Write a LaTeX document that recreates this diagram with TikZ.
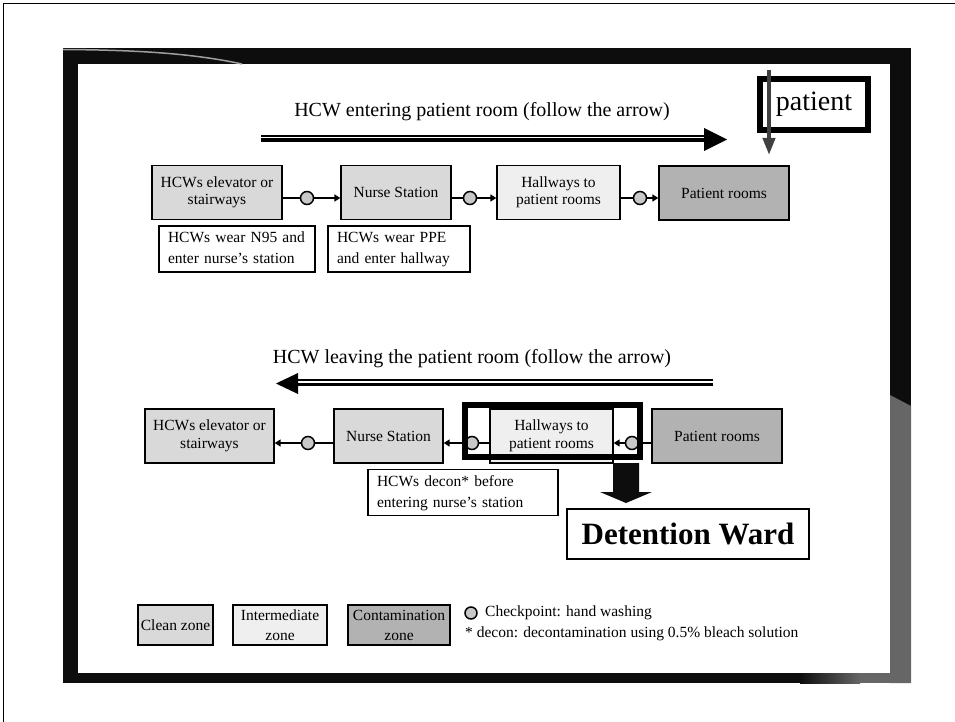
\documentclass[tikz,border=0pt]{standalone}
\usepackage{fontspec}
\setmainfont{Liberation Serif}
\usetikzlibrary{arrows.meta,calc}

\definecolor{cleanfill}{HTML}{D9D9D9}
\definecolor{midfill}{HTML}{EFEFEF}
\definecolor{dirtyfill}{HTML}{B2B2B2}
\definecolor{chkfill}{HTML}{C8C8C8}
\definecolor{framegray}{HTML}{666666}
\definecolor{frameblack}{HTML}{0D0D0D}
\definecolor{arrowgray}{HTML}{404040}

\begin{document}
\begin{tikzpicture}[x=1pt,y=-1pt,
  zone/.style={draw=black,line width=1.3pt,inner sep=0pt,align=center,
    font=\fontsize{15.5}{17.5}\selectfont,minimum height=54pt},
  clean/.style={zone,fill=cleanfill},
  mid/.style={zone,fill=midfill},
  dirty/.style={zone,fill=dirtyfill},
  note/.style={draw=black,line width=1.3pt,fill=white,align=left,
    font=\fontsize{15.5}{21}\selectfont,inner xsep=9pt,inner ysep=0pt,
    minimum height=46pt,text width=#1},
  chk/.style={circle,draw=black,line width=1.5pt,fill=chkfill,
    minimum size=13pt,inner sep=0pt},
  conn/.style={line width=1.5pt,-{Triangle[length=6pt,width=7pt]}},
  heading/.style={font=\fontsize{20}{24}\selectfont,anchor=base},
  legendtext/.style={font=\fontsize{15.5}{18}\selectfont,anchor=west,inner sep=0pt},
  thinrule/.style={line width=1.1pt},
  thickrule/.style={line width=3.6pt},
]
\useasboundingbox (0,0) rectangle (955,722);

% page edge lines
\draw[line width=1.5pt] (3.5,722) -- (3.5,3.5) -- (955,3.5);

% slide frame
\fill[frameblack] (63,48) rectangle (911,683);
\fill[white] (78,64) rectangle (890,673);
\fill[framegray] (890,395) -- (911,406) -- (911,683) -- (890,683) -- cycle;
\shade[left color=frameblack,right color=framegray] (800,673) rectangle (860,683);
\fill[framegray] (860,673) rectangle (890,683);
\draw[gray!75,line width=1.5pt] (63,49.5) .. controls (150,50) and (200,55) .. (242,64);

% ---------- entering ----------
\node[heading] (t1) at (482,117) {HCW entering patient room (follow the arrow)};
\coordinate (e1) at (261,139.5);
\coordinate (e2) at (704,139.5);
\draw[thinrule] ([yshift=3.5pt]e1) -- ([yshift=3.5pt]e2);
\draw[thickrule] ([yshift=-0.8pt]e1) -- ([yshift=-0.8pt]e2);
\fill ([yshift=11.5pt]e2) -- ([xshift=23pt]e2) -- ([yshift=-11.5pt]e2) -- cycle;

\node[clean,minimum width=130pt] (up1) at (217,192.5) {HCWs elevator or\\stairways};
\node[clean,minimum width=110pt] (up2) at (396,192.5) {Nurse Station};
\node[mid,minimum width=123pt] (up3) at (558.5,192.5) {Hallways to\\patient rooms};
\node[dirty,minimum width=130pt] (up4) at (724,193) {Patient rooms};

\draw[conn] ([yshift=-5.5pt]up1.east) -- ([yshift=-5.5pt]up2.west);
\draw[conn] ([yshift=-5.5pt]up2.east) -- ([yshift=-5.5pt]up3.west);
\draw[conn] ([yshift=-5.5pt]up3.east) -- ([yshift=-5pt]up4.west);
\node[chk] (k1) at (307,198) {};
\node[chk] (k2) at (470,198) {};
\node[chk] (k3) at (640,198) {};

\node[note=138pt] (n1) at (237,249) {\strut HCWs wear N95 and\\\strut enter nurse’s station};
\node[note=124pt] (n2) at (399,249) {\strut HCWs wear PPE\\\strut and enter hallway};

\node[draw,line width=6pt,minimum width=108pt,minimum height=51pt,inner sep=0pt,
  font=\fontsize{28}{30}\selectfont] (pat) at (814,104.5) {patient};
\coordinate (pa) at (769,70);
\coordinate (pb) at (769,155);
\draw[line width=4pt,arrowgray,-{Triangle[length=17pt,width=12pt]}] (pa) -- (pb);

% ---------- leaving ----------
\node[heading] (t2) at (472,363) {HCW leaving the patient room (follow the arrow)};
\coordinate (l1) at (713,383.5);
\coordinate (l2) at (298,383.5);
\draw[thinrule] ([yshift=3.5pt]l1) -- ([yshift=3.5pt]l2);
\draw[thickrule] ([yshift=-0.8pt]l1) -- ([yshift=-0.8pt]l2);
\fill ([yshift=10.5pt]l2) -- ([xshift=-22pt]l2) -- ([yshift=-10.5pt]l2) -- cycle;

\node[clean,minimum width=129pt] (dn1) at (209.5,436) {HCWs elevator or\\stairways};
\node[clean,minimum width=109pt] (dn2) at (388.5,436) {Nurse Station};
\node[mid,minimum width=123pt] (dn3) at (551.5,436) {Hallways to\\patient rooms};
\node[dirty,minimum width=130pt] (dn4) at (717,436) {Patient rooms};

\draw[conn] ([yshift=-7pt]dn4.west) -- ([yshift=-7pt]dn3.east);
\draw[conn] ([yshift=-7pt]dn3.west) -- ([yshift=-7pt]dn2.east);
\draw[conn] ([yshift=-7pt]dn2.west) -- ([yshift=-7pt]dn1.east);
\node[chk] (k4) at (632,443) {};
\node[chk] (k5) at (472,443) {};
\node[chk] (k6) at (308,443) {};

\node[draw,line width=6pt,minimum width=175pt,minimum height=52pt,inner sep=0pt] (iso) at (552.5,431) {};

\node[note=172pt] (n3) at (463,492.5) {\strut HCWs decon* before\\\strut entering nurse’s station};

\node[draw,line width=1.3pt,minimum width=242pt,minimum height=50pt,inner sep=0pt,
  font=\fontsize{31}{34}\selectfont\bfseries] (det) at (688,534) {Detention Ward};

% block arrow into the detention ward
\fill[frameblack] (613,463) -- (639,463) -- (639,492) -- (652,492) -- (626,503)
  -- (600,492) -- (613,492) -- cycle;

% ---------- legend ----------
\node[clean,minimum width=75pt,minimum height=40pt] (lg1) at (175.5,625) {Clean zone};
\node[mid,minimum width=94pt,minimum height=40pt,font=\fontsize{15.5}{20}\selectfont] (lg2) at (280,625) {Intermediate\\zone};
\node[dirty,minimum width=102pt,minimum height=40pt,font=\fontsize{15.5}{20}\selectfont] (lg3) at (399,625) {Contamination\\zone};
\node[chk,minimum size=12pt] (lgk) at (471,613) {};
\node[legendtext] (lgt1) at (485,613) {Checkpoint: hand washing};
\node[legendtext] (lgt2) at (465,634) {* decon: decontamination using 0.5\% bleach solution};
\end{tikzpicture}
\end{document}
